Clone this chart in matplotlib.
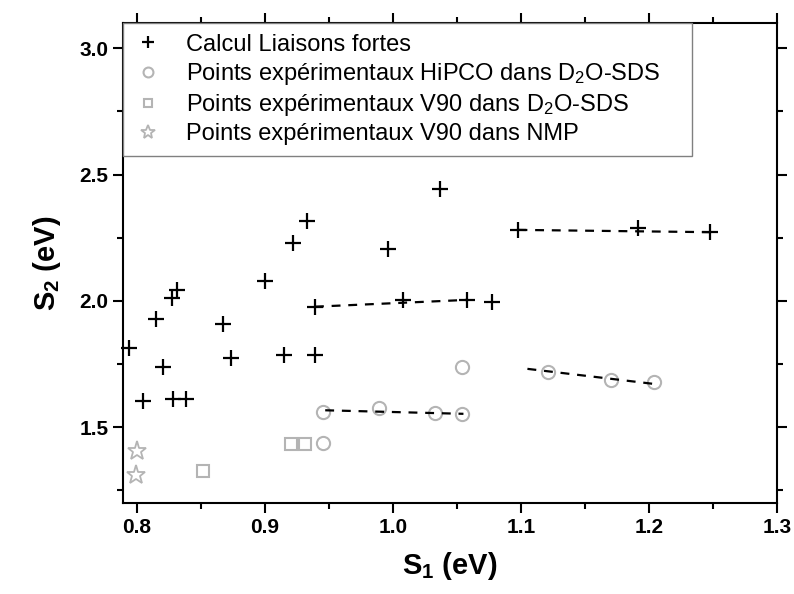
import matplotlib
matplotlib.use('Agg')
import matplotlib.pyplot as plt
from matplotlib.ticker import MultipleLocator

plt.rcParams['font.family'] = ['Liberation Sans', 'DejaVu Sans']
plt.rcParams['mathtext.fontset'] = 'custom'
plt.rcParams['mathtext.rm'] = 'Liberation Sans'
plt.rcParams['mathtext.bf'] = 'Liberation Sans:bold'
plt.rcParams['mathtext.default'] = 'regular'

# calcul liaisons fortes (S1, S2)
tb_s1 = [0.794, 0.805, 0.815, 0.820, 0.827, 0.831, 0.828, 0.8385, 0.867, 0.873,
         0.900, 0.915, 0.922, 0.933, 0.939, 0.939, 0.996, 1.008, 1.037, 1.058,
         1.077, 1.098, 1.191, 1.248]
tb_s2 = [1.813, 1.604, 1.928, 1.740, 2.011, 2.044, 1.611, 1.611, 1.908, 1.772,
         2.079, 1.784, 2.228, 2.317, 1.784, 1.977, 2.206, 2.004, 2.443, 2.004,
         1.997, 2.281, 2.290, 2.272]

# HiPCO dans D2O-SDS
hipco_s1 = [0.945, 0.945, 0.989, 1.0325, 1.054, 1.054, 1.121, 1.170, 1.204]
hipco_s2 = [1.560, 1.437, 1.575, 1.558, 1.553, 1.738, 1.720, 1.687, 1.677]

# V90 dans D2O-SDS
v90_s1 = [0.920, 0.9315, 0.8516]
v90_s2 = [1.434, 1.434, 1.327]

# V90 dans NMP
nmp_s1 = [0.800, 0.7995]
nmp_s2 = [1.404, 1.311]

# droites (familles)
lines = [
    ([0.939, 1.058], [1.977, 2.004]),
    ([1.098, 1.248], [2.281, 2.272]),
    ([0.947, 1.055], [1.567, 1.553]),
    ([1.105, 1.206], [1.731, 1.670]),
]

gray = '#b4b4b4'

fig = plt.figure(figsize=(7.94, 5.94), dpi=100)
ax = fig.add_axes([0.1549, 0.1532, 0.8237, 0.8081])

for lx, ly in lines:
    ax.plot(lx, ly, color='black', lw=1.6, ls=(0, (4, 3.5)), zorder=3)

ax.plot(tb_s1, tb_s2, ls='none', marker='+', ms=11, mew=1.6, color='black',
        label='Calcul Liaisons fortes', zorder=4, clip_on=False)
ax.plot(hipco_s1, hipco_s2, ls='none', marker='o', ms=9.5, mew=1.5, mfc='none',
        mec=gray, label='Points expérimentaux HiPCO dans D$_2$O-SDS', zorder=2)
ax.plot(v90_s1, v90_s2, ls='none', marker='s', ms=8.5, mew=1.5, mfc='none',
        mec=gray, label='Points expérimentaux V90 dans D$_2$O-SDS', zorder=2)
ax.plot(nmp_s1, nmp_s2, ls='none', marker='*', ms=14, mew=1.3, mfc='none',
        mec=gray, label='Points expérimentaux V90 dans NMP', zorder=2, clip_on=False)

ax.set_xlim(0.789, 1.3)
ax.set_ylim(1.2, 3.1)
ax.xaxis.set_major_locator(MultipleLocator(0.1))
ax.xaxis.set_minor_locator(MultipleLocator(0.05))
ax.yaxis.set_major_locator(MultipleLocator(0.5))
ax.yaxis.set_minor_locator(MultipleLocator(0.25))
ax.xaxis.set_major_formatter(plt.FuncFormatter(lambda v, p: f'{v:.1f}'))
ax.yaxis.set_major_formatter(plt.FuncFormatter(lambda v, p: f'{v:.1f}'))

ax.tick_params(which='both', direction='out', top=True, right=True, width=1.5,
               labelsize=15)
ax.tick_params(which='major', length=7)
ax.tick_params(which='minor', length=4)
for lab in ax.get_xticklabels() + ax.get_yticklabels():
    lab.set_fontweight('bold')
for sp in ax.spines.values():
    sp.set_linewidth(1.5)

ax.set_xlabel(r'$\mathbf{S_1}$ (eV)', fontsize=21, fontweight='bold', labelpad=10)
ax.set_ylabel(r'$\mathbf{S_2}$ (eV)', fontsize=21, fontweight='bold', labelpad=12)

leg = ax.legend(loc='upper left', bbox_to_anchor=(0, 1, 0.87, 0), mode='expand',
                borderaxespad=0, fontsize=17, fancybox=False,
                edgecolor='#808080', framealpha=1, markerscale=0.75,
                handlelength=1.2, handletextpad=1.0, labelspacing=0.22,
                borderpad=0.45)
leg.get_frame().set_linewidth(1.0)
leg.set_zorder(5)

fig.savefig('out.png', dpi=100)
